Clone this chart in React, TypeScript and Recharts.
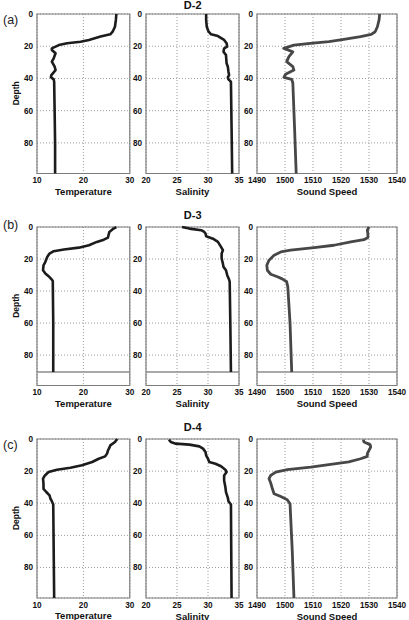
import {
  CartesianGrid,
  Line,
  LineChart,
  ReferenceArea,
  ReferenceLine,
  XAxis,
  YAxis,
} from "recharts";

type Profile = [number, number][]; // [depth, value]

const depthTicks = [0, 20, 40, 60, 80];
const tempTicks = [10, 20, 30];
const salTicks = [20, 25, 30, 35];
const soundTicks = [1490, 1500, 1510, 1520, 1530, 1540];

// station D-2
const d2Temp: Profile = [
  [0, 27.1], [3.7, 27.0], [7.9, 26.8], [11, 26.3], [12.6, 25.8], [14, 23.7],
  [16.1, 21.2], [17.2, 19.4], [18.2, 16.5], [19.3, 14.7], [21.3, 13.2],
  [22.4, 13.2], [24.4, 14.0], [27.5, 13.6], [29.6, 13.2], [32.7, 13.8],
  [34.8, 14.0], [37.9, 13.1], [39.3, 13.0], [40.6, 13.6], [42, 13.7],
  [60, 13.8], [80, 13.9], [99, 13.9],
];
const d2Sal: Profile = [
  [0, 29.7], [3.7, 29.7], [7.9, 29.8], [11, 30.1], [12.6, 30.5], [13.7, 31.6],
  [16.1, 32.6], [18.2, 33.0], [20.3, 33.1], [21.3, 32.6], [23.4, 32.5],
  [25.5, 32.9], [30.6, 33.0], [32.7, 33.2], [35.8, 33.3], [37.9, 33.4],
  [39.3, 33.2], [40.6, 33.3], [42, 33.7], [70, 33.8], [99, 33.9],
];
const d2Sound: Profile = [
  [0, 1533.8], [3.7, 1533.6], [7.9, 1533.0], [11, 1532.2], [12.6, 1530.8],
  [14, 1527], [15.7, 1521], [17.2, 1515.7], [18.2, 1509], [19.3, 1503.2],
  [21.3, 1499.5], [23.5, 1502.8], [26.5, 1501.4], [29.6, 1500.6],
  [32.7, 1502.8], [34.8, 1503.2], [37.4, 1500.2], [39.3, 1499.6],
  [40.6, 1502.4], [42.8, 1502.8], [70, 1503.4], [99, 1504],
];

// station D-3 (cast stops at ~90.6 m)
const d3Temp: Profile = [
  [0, 27.1], [1, 26.5], [3.1, 25.6], [4.1, 25.5], [6.6, 25.3], [7.9, 24.4],
  [9.3, 22.9], [11.4, 21.2], [12.9, 19.0], [14.1, 15.8], [15.1, 13.6],
  [16.6, 12.7], [18.7, 12.2], [21.8, 11.8], [23.9, 11.4], [27, 11.3],
  [29, 11.8], [30.7, 12.5], [32.2, 13.0], [33.6, 13.4], [60, 13.5],
  [90.6, 13.5],
];
const d3Sal: Profile = [
  [0, 25.8], [1, 27.0], [2, 28.9], [3.1, 29.4], [4.1, 29.6], [5.8, 29.7],
  [7.3, 30.8], [9.3, 31.6], [12.4, 32.1], [14.5, 32.4], [16.6, 32.2],
  [19.7, 32.2], [22.8, 32.4], [24.9, 32.5], [27, 32.9], [30.1, 33.1],
  [32.8, 33.4], [34.2, 33.5], [60, 33.6], [90.6, 33.7],
];
const d3Sound: Profile = [
  [0, 1530], [2, 1529.4], [4.1, 1529.6], [6.6, 1529.6], [7.9, 1528.2],
  [9.3, 1523.5], [11.4, 1517.5], [12.9, 1510.4], [14.5, 1502], [15.6, 1498.5],
  [17.6, 1496.1], [20.7, 1494.3], [23.9, 1493.5], [27, 1493.7],
  [29.5, 1494.9], [31.1, 1497.3], [32.4, 1499], [34.2, 1500.6], [37.3, 1501],
  [60, 1501.8], [90.6, 1502.4],
];

// station D-4
const d4Temp: Profile = [
  [0, 27.3], [1.9, 26.8], [4, 25.8], [6, 25.5], [7.1, 25.3], [9.1, 25.1],
  [10.8, 24.7], [12.3, 23.3], [14.3, 21.9], [16.4, 19.7], [17.9, 17.2],
  [19.1, 14.3], [20.6, 12.5], [22.7, 11.7], [24.7, 11.3], [27.9, 11.4],
  [31, 11.4], [33, 12.0], [35.1, 12.7], [37.2, 12.9], [38.7, 13.2],
  [40.8, 13.5], [70, 13.6], [99, 13.7],
];
const d4Sal: Profile = [
  [0.4, 23.7], [1.9, 24.0], [2.9, 24.8], [3.5, 27.0], [4.6, 28.6], [6, 29.2],
  [8.1, 29.6], [10.2, 29.7], [12.3, 30.0], [14.3, 30.2], [15.4, 31.2],
  [17, 32.1], [19.1, 32.8], [20.6, 33.0], [22.7, 32.6], [25.8, 32.6],
  [29.9, 32.8], [33.1, 32.9], [36.6, 33.2], [38.7, 33.3], [40.8, 33.7],
  [70, 33.75], [99, 33.8],
];
const d4Sound: Profile = [
  [0.4, 1528], [1.9, 1528.2], [3.5, 1530.4], [5, 1530.6], [7.1, 1530],
  [9.1, 1529.4], [10.8, 1529.4], [12.3, 1527], [14.3, 1522.8], [15.8, 1516.3],
  [17.5, 1509.2], [19.1, 1500.8], [20.6, 1496.7], [22.7, 1494.9],
  [24.7, 1494.3], [27.4, 1494.9], [31, 1495.5], [34.1, 1496.1],
  [35.8, 1498.5], [37.8, 1500.8], [40.3, 1501.8], [70, 1502.6], [99, 1503.2],
];

const DEPTH_MAX = 99;
const FONT = "'Liberation Sans', Arial, sans-serif";

type Column = {
  label: string;
  left: number;
  width: number;
  domain: [number, number];
  ticks: number[];
  stroke: string;
  strokeWidth: number;
};

const columns: Column[] = [
  { label: "Temperature", left: 36.5, width: 92.8, domain: [10, 30], ticks: tempTicks, stroke: "#1c1c1c", strokeWidth: 2.6 },
  { label: "Salinity", left: 146.3, width: 93, domain: [20, 35], ticks: salTicks, stroke: "#1c1c1c", strokeWidth: 2.6 },
  { label: "Sound Speed", left: 256.7, width: 140, domain: [1490, 1540], ticks: soundTicks, stroke: "#474747", strokeWidth: 2.8 },
];

type Row = {
  title: string;
  tag: string;
  top: number;
  height: number;
  profiles: Profile[];
  cutoff?: number;
};

const rows: Row[] = [
  { title: "D-2", tag: "(a)", top: 13.5, height: 159.5, profiles: [d2Temp, d2Sal, d2Sound] },
  { title: "D-3", tag: "(b)", top: 226.5, height: 158.5, profiles: [d3Temp, d3Sal, d3Sound], cutoff: 90.6 },
  { title: "D-4", tag: "(c)", top: 438.5, height: 159, profiles: [d4Temp, d4Sal, d4Sound] },
];

const titleY = [4.5, 215, 427.3];
const tagY = [20, 225.3, 444.7];

const tickStyle = { fontSize: 8.2, fontWeight: 700, fill: "#111", fontFamily: FONT };

const M = { top: 8, right: 14, left: 0, bottom: 0 };
const YW = 26;
const XH = 26;

function Panel({ col, row, values }: { col: Column; row: Row; values: Profile }) {
  const data = values.map(([depth, v]) => ({ depth, v }));
  const width = YW + col.width + M.right;
  const height = M.top + row.height + XH;
  return (
    <div style={{ position: "absolute", left: col.left - YW, top: row.top - M.top }}>
      <LineChart layout="vertical" width={width} height={height} data={data} margin={M}>
        <CartesianGrid stroke="#9c9c9c" strokeDasharray="1 2" />
        <XAxis
          type="number"
          domain={col.domain}
          ticks={col.ticks}
          interval={0}
          axisLine={false}
          tickLine={false}
          tickSize={0}
          tickMargin={4}
          height={XH}
          tick={tickStyle}
          label={{
            value: col.label,
            position: "insideBottom",
            offset: 4.5,
            style: { fontSize: 9.5, fontWeight: 700, fill: "#111", fontFamily: FONT },
          }}
        />
        {/* depth grows downward: vertical layout already puts the domain start at the top */}
        <YAxis
          type="number"
          dataKey="depth"
          domain={[0, DEPTH_MAX]}
          ticks={depthTicks}
          interval={0}
          axisLine={false}
          tickLine={false}
          tickSize={0}
          tickMargin={4}
          width={YW}
          tick={tickStyle}
        />
        <ReferenceArea
          x1={col.domain[0]}
          x2={col.domain[1]}
          y1={0}
          y2={DEPTH_MAX}
          fill="none"
          fillOpacity={0}
          stroke="#7c7c7c"
          strokeWidth={1.2}
        />
        {row.cutoff != null && (
          <ReferenceLine y={row.cutoff} stroke="#8c8c8c" strokeWidth={1.5} />
        )}
        <Line
          type="linear"
          dataKey="v"
          stroke={col.stroke}
          strokeWidth={col.strokeWidth}
          strokeLinejoin="round"
          dot={false}
          isAnimationActive={false}
        />
      </LineChart>
    </div>
  );
}

export default function App() {
  return (
    <div style={{ position: "absolute", left: 0, top: 0, width: 409, height: 620, background: "#fff" }}>
      {rows.map((row) =>
        columns.map((col, ci) => (
          <Panel key={row.title + col.label} col={col} row={row} values={row.profiles[ci]} />
        )),
      )}
      <svg
        width={409}
        height={620}
        style={{ position: "absolute", left: 0, top: 0, pointerEvents: "none" }}
      >
        {rows.map((row, i) => (
          <g key={row.title}>
            <text
              x={192.7}
              y={titleY[i]}
              textAnchor="middle"
              dominantBaseline="central"
              fontFamily={FONT}
              fontWeight={700}
              fontSize={11}
              fill="#111"
            >
              {row.title}
            </text>
            <text
              x={3}
              y={tagY[i]}
              dominantBaseline="central"
              fontFamily={FONT}
              fontSize={12.5}
              fill="#222"
            >
              {row.tag}
            </text>
            <text
              transform={`translate(15.7, ${row.top + row.height / 2}) rotate(-90)`}
              textAnchor="middle"
              dominantBaseline="central"
              fontFamily={FONT}
              fontWeight={700}
              fontSize={8.5}
              fill="#111"
            >
              Depth
            </text>
          </g>
        ))}
      </svg>
    </div>
  );
}
